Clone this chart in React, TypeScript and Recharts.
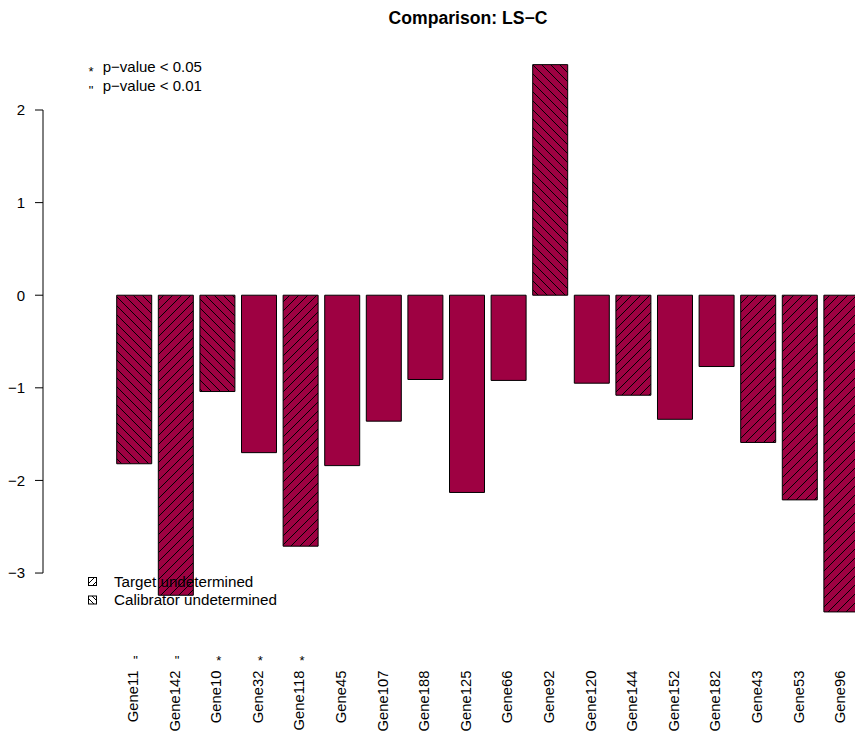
import React from "react";
import { BarChart, Bar, XAxis, YAxis, Cell, ReferenceLine } from "recharts";

const genes = ["Gene11","Gene142","Gene10","Gene32","Gene118","Gene45","Gene107","Gene188","Gene125","Gene66","Gene92","Gene120","Gene144","Gene152","Gene182","Gene43","Gene53","Gene96"];
const values = [-1.82,-3.24,-1.04,-1.70,-2.71,-1.84,-1.36,-0.91,-2.13,-0.92,2.49,-0.95,-1.08,-1.34,-0.77,-1.59,-2.21,-3.42];
// "cal" = Calibrator undetermined, "target" = Target undetermined, "" = none
const status = ["cal","target","cal","","target","","","","","","cal","","target","","","target","target","target"];
const marks = ["\"","\"","*","*","*","","","","","","","","","","","","",""];
const yTicks = [-3,-2,-1,0,1,2];
const title = "Comparison: LS\u2212C";
const pLegend = [{ sym: "*", label: "p\u2212value < 0.05" }, { sym: "\"", label: "p\u2212value < 0.01" }];
const hatchLegend = [{ kind: "target", label: "Target undetermined" }, { kind: "cal", label: "Calibrator undetermined" }];

const positions = genes.map((_, i) => i + 1);
const data = genes.map((g, i) => ({ pos: positions[i], gene: g, value: values[i], status: status[i], mark: marks[i] }));

const FONT = "'Liberation Sans', Arial, Helvetica, sans-serif";
const BAR = "#9E0142";
const X_MIN = -1.2;
const S = 9; // hatch tile

const fmt = (v: number) => (v < 0 ? "\u2212" + Math.abs(v) : String(v));

const GeneTick = (props: any) => {
  const { x, y, payload } = props;
  const d = data.find((e) => e.pos === payload.value);
  if (!d) return null;
  const ty = y + 42;
  return (
    <g>
      {d.mark ? (
        <text x={x + 1} y={y + 36.5} textAnchor="middle" fontSize={13} fontFamily={FONT} fill="#000">{d.mark}</text>
      ) : null}
      <text x={x + 3.5} y={ty} transform={`rotate(-90, ${x + 3.5}, ${ty})`} textAnchor="end" fontSize={14.8} fontFamily={FONT} fill="#000">{d.gene}</text>
    </g>
  );
};

const fillFor = (s: string) => (s === "target" ? "url(#hatchT)" : s === "cal" ? "url(#hatchC)" : BAR);

const slashPath = (n: number) => `M0,${n} L${n},0 M-1,1 L1,-1 M${n - 1},${n + 1} L${n + 1},${n - 1}`;
const backPath = (n: number) => `M0,0 L${n},${n} M-1,${n - 1} L1,${n + 1} M${n - 1},-1 L${n + 1},1`;

export default function App() {
  return (
    <div style={{ position: "absolute", left: 0, top: 0, width: 855, height: 731, overflow: "hidden", background: "#fff" }}>
      <BarChart width={855} height={731} data={data} margin={{ top: 45.18, right: 0, bottom: 0, left: 0 }}>
        <defs>
          <pattern id="hatchT" patternUnits="userSpaceOnUse" width={S} height={S}>
            <rect x={0} y={0} width={S} height={S} fill={BAR} />
            <path d={slashPath(S)} stroke="#000" strokeWidth={1} />
          </pattern>
          <pattern id="hatchC" patternUnits="userSpaceOnUse" width={S} height={S}>
            <rect x={0} y={0} width={S} height={S} fill={BAR} />
            <path d={backPath(S)} stroke="#000" strokeWidth={1} />
          </pattern>
        </defs>
        <XAxis
          type="number"
          dataKey="pos"
          domain={[X_MIN, 18.32]}
          ticks={positions}
          interval={0}
          axisLine={false}
          tickLine={false}
          tickSize={0}
          tickMargin={0}
          height={102.4}
          tick={<GeneTick />}
        />
        <YAxis
          type="number"
          domain={[-3.6, 2.7]}
          ticks={yTicks}
          width={43}
          axisLine={false}
          tickLine={{ stroke: "#000" }}
          tickSize={8}
          tickMargin={10}
          tickFormatter={fmt}
          tick={{ fill: "#000", fontSize: 15, fontFamily: FONT }}
        />
        <ReferenceLine segment={[{ x: X_MIN, y: -3 }, { x: X_MIN, y: 2 }]} stroke="#000" strokeWidth={1} ifOverflow="visible" />
        <Bar dataKey="value" barSize={35} stroke="#000" strokeWidth={1} isAnimationActive={false}>
          {data.map((d, i) => (
            <Cell key={i} fill={fillFor(d.status)} />
          ))}
        </Bar>
      </BarChart>
      <svg width={855} height={731} style={{ position: "absolute", left: 0, top: 0, pointerEvents: "none" }}>
        <defs>
          <pattern id="legT" patternUnits="userSpaceOnUse" width={6} height={6}>
            <rect x={0} y={0} width={6} height={6} fill="#fff" />
            <path d={slashPath(6)} stroke="#000" strokeWidth={1} />
          </pattern>
          <pattern id="legC" patternUnits="userSpaceOnUse" width={6} height={6}>
            <rect x={0} y={0} width={6} height={6} fill="#fff" />
            <path d={backPath(6)} stroke="#000" strokeWidth={1} />
          </pattern>
        </defs>
        <text x={468} y={24} textAnchor="middle" fontSize={17.6} fontWeight="bold" fontFamily={FONT} fill="#000">{title}</text>
        {pLegend.map((p, i) => (
          <g key={i}>
            <text x={91} y={76 + i * 18.5} textAnchor="middle" fontSize={13} fontFamily={FONT} fill="#000">{p.sym}</text>
            <text x={102.7} y={72 + i * 18.5} fontSize={15} fontFamily={FONT} fill="#000">{p.label}</text>
          </g>
        ))}
        {hatchLegend.map((h, i) => (
          <g key={i}>
            <rect x={88.5} y={577.5 + i * 18.5} width={8} height={8} fill={h.kind === "target" ? "url(#legT)" : "url(#legC)"} stroke="#000" strokeWidth={1} />
            <text x={114} y={586.5 + i * 18.5} fontSize={15.2} fontFamily={FONT} fill="#000">{h.label}</text>
          </g>
        ))}
      </svg>
    </div>
  );
}
